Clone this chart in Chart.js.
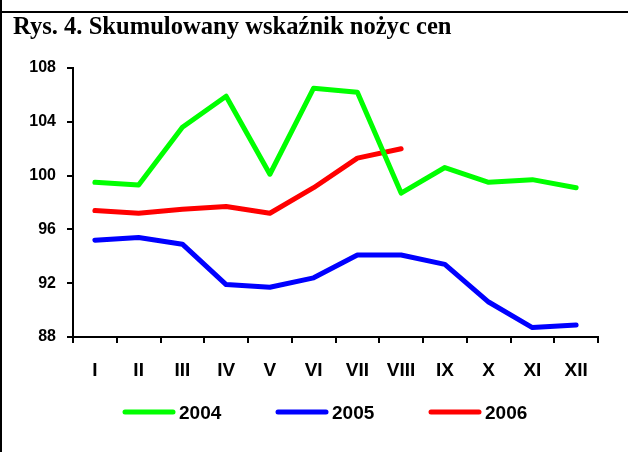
<!DOCTYPE html>
<html>
<head>
<meta charset="utf-8">
<script src="https://cdn.jsdelivr.net/npm/chart.js@4.4.0/dist/chart.umd.min.js"></script>
<style>
  html, body { margin: 0; padding: 0; background: #fff; }
  #page { position: relative; width: 628px; height: 452px; overflow: hidden; }
  #leftLine { position: absolute; left: 0; top: 0; width: 2px; height: 452px; background: #000; }
  #topLine { position: absolute; left: 0; top: 11px; width: 628px; height: 2px; background: #000; }
  #title {
    position: absolute; left: 13px; top: 14px; line-height: 24px;
    font-family: "Liberation Serif", "Times New Roman", serif; font-weight: bold; font-size: 24.6px;
    color: #000; white-space: nowrap;
  }
  #statsChart { position: absolute; left: 0; top: 0; }
</style>
</head>
<body>
<div id="page">
  <canvas id="statsChart" width="628" height="452"></canvas>
  <div id="leftLine"></div>
  <div id="topLine"></div>
  <div id="title">Rys. 4. Skumulowany wskaźnik nożyc cen</div>
</div>
<script>
// dane
const months = ['I', 'II', 'III', 'IV', 'V', 'VI', 'VII', 'VIII', 'IX', 'X', 'XI', 'XII'];
const years = ['2004', '2005', '2006'];
const values2004 = [99.5, 99.3, 103.6, 105.9, 100.1, 106.5, 106.2, 98.7, 100.6, 99.5, 99.7, 99.1];
const values2005 = [95.2, 95.4, 94.9, 91.9, 91.7, 92.4, 94.1, 94.1, 93.4, 90.6, 88.7, 88.9];
const values2006 = [97.4, 97.2, 97.5, 97.7, 97.2, 99.1, 101.3, 102.0];
const yTicks = [88, 92, 96, 100, 104, 108];
const lineColors = ['#00ff00', '#0000ff', '#ff0000'];

// legenda rysowana recznie (odstep tekstu jak w oryginale)
const legendPlugin = {
    id: 'customLegend',
    afterDraw(chart) {
        const ctx = chart.ctx;
        const y = 412;
        ctx.save();
        chart.data.datasets.forEach(function(ds, i) {
            const x = 123 + i * 153;
            ctx.strokeStyle = ds.borderColor;
            ctx.lineWidth = 5;
            ctx.lineCap = 'round';
            ctx.beginPath();
            ctx.moveTo(x + 2, y);
            ctx.lineTo(x + 50, y);
            ctx.stroke();
            ctx.fillStyle = '#000';
            ctx.font = 'bold 19px "Liberation Sans", Arial, sans-serif';
            ctx.textBaseline = 'middle';
            ctx.fillText(ds.label, x + 56, y + 2);
        });
        ctx.restore();
    }
};

const datasets = [values2004, values2005, values2006].map(function(vals, i) {
    return {
        label: years[i],
        data: vals,
        borderColor: lineColors[i],
        backgroundColor: lineColors[i],
        borderWidth: 5,
        borderCapStyle: 'round',
        borderJoinStyle: 'round',
        pointRadius: 0,
        tension: 0,
        fill: false
    };
});

new Chart(document.getElementById('statsChart'), {
    type: 'line',
    data: { labels: months, datasets: datasets },
    plugins: [legendPlugin],
    options: {
        responsive: false,
        animation: false,
        layout: { padding: { left: 0, top: 68, right: 30, bottom: 0 } },
        plugins: { legend: { display: false }, tooltip: { enabled: false } },
        scales: {
            x: {
                offset: true,
                afterFit: function(scale) { scale.height = 115; },
                grid: {
                    offset: true,
                    drawOnChartArea: false,
                    tickLength: 6,
                    color: '#000',
                    lineWidth: 2
                },
                border: { display: true, color: '#000', width: 2 },
                ticks: {
                    color: '#000',
                    padding: 16,
                    maxRotation: 0,
                    autoSkip: false,
                    font: { family: '"Liberation Sans", Arial, sans-serif', size: 19, weight: 'bold' }
                }
            },
            y: {
                min: 88,
                max: 108,
                afterFit: function(scale) { scale.width = 73; },
                afterBuildTicks: function(scale) {
                    scale.ticks = yTicks.map(function(v) { return { value: v }; });
                },
                grid: {
                    drawOnChartArea: false,
                    tickLength: 6,
                    color: '#000',
                    lineWidth: 2
                },
                border: { display: true, color: '#000', width: 2 },
                ticks: {
                    color: '#000',
                    padding: 11,
                    font: { family: '"Liberation Sans", Arial, sans-serif', size: 16, weight: 'bold' }
                }
            }
        }
    }
});
</script>
</body>
</html>
